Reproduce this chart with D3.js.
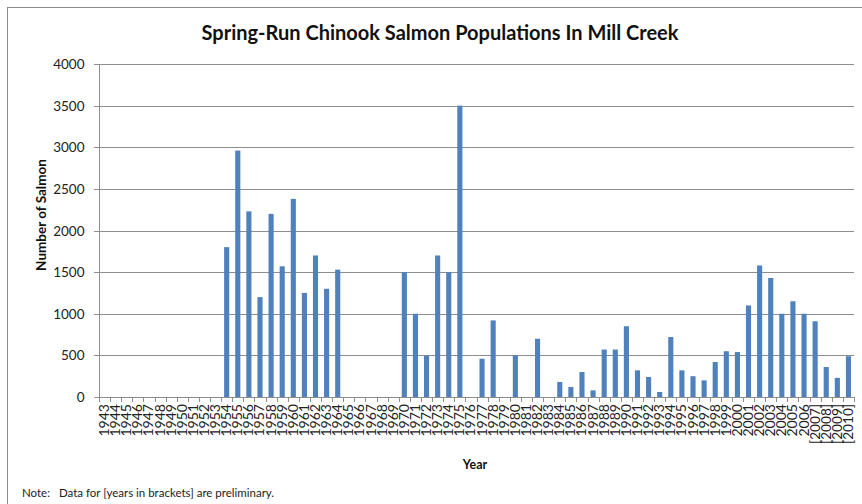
<!DOCTYPE html>
<html><head><meta charset="utf-8">
<script src="https://cdn.jsdelivr.net/npm/d3@7"></script>
<style>
html,body{margin:0;padding:0;background:#fff;}
svg{display:block;font-family:Lato,"Open Sans",sans-serif;}
</style></head>
<body><svg id="c" width="862" height="504"></svg>
<script>
const title = "Spring-Run Chinook Salmon Populations In Mill Creek";
const yTitle = "Number of Salmon";
const xTitle = "Year";
const note = "Note:   Data for [years in brackets] are preliminary.";
const years = ["1943","1944","1945","1946","1947","1948","1949","1950","1951","1952","1953",
  "1954","1955","1956","1957","1958","1959","1960","1961","1962","1963","1964",
  "1965","1966","1967","1968","1969","1970","1971","1972","1973","1974","1975",
  "1976","1977","1978","1979","1980","1981","1982","1983","1984","1985","1986",
  "1987","1988","1989","1990","1991","1992","1993","1994","1995","1996","1997",
  "1998","1999","2000","2001","2002","2003","2004","2005","2006",
  "[2007]","[2008]","[2009]","[2010]"];
const salmon = [null,null,null,null,null,null,null,null,null,null,null,
  1800,2960,2230,1200,2200,1570,2380,1250,1700,1300,1530,
  null,null,null,null,null,1500,1000,500,1700,1500,3500,
  null,460,920,null,500,null,700,null,180,120,300,
  80,570,570,850,320,240,60,720,320,250,200,
  420,550,540,1100,1580,1430,1000,1150,1000,
  910,360,230,490];
const yTicks = [0,500,1000,1500,2000,2500,3000,3500,4000];

const svg = d3.select("#c");
const m = {left:99, right:854, top:64, bottom:397};

// outer frame
svg.append("rect").attr("x",7.5).attr("y",7.5).attr("width",900).attr("height",600)
  .attr("fill","none").attr("stroke","#8c8c8c").attr("stroke-width",1);

const x = d3.scaleBand().domain(years).range([m.left,m.right]).paddingInner(0.54).paddingOuter(0.27);
const y = d3.scaleLinear().domain([0,4000]).range([m.bottom,m.top]);

// gridlines
svg.append("g").selectAll("line").data(yTicks.filter(d=>d>0)).join("line")
  .attr("x1",m.left-5).attr("x2",m.right).attr("y1",d=>Math.round(y(d))+0.5).attr("y2",d=>Math.round(y(d))+0.5)
  .attr("stroke","#8e8e8e").attr("stroke-width",1);

// y axis
const ya = svg.append("g").attr("transform",`translate(${m.left+0.5},0)`)
  .call(d3.axisLeft(y).tickValues(yTicks).tickSize(5).tickPadding(10).tickFormat(d3.format("d")));
ya.select(".domain").attr("stroke","#8e8e8e").attr("d",`M0,${m.top}V${m.bottom}`);
ya.selectAll(".tick line").attr("stroke","#8e8e8e");
ya.selectAll(".tick").attr("transform",d=>`translate(0,${Math.round(y(d))+0.5})`);
ya.selectAll("text").attr("font-family","Lato,sans-serif").attr("font-size",13.5).attr("fill","#222");

// bars
svg.append("g").selectAll("rect").data(years.map((yr,i)=>({yr,v:salmon[i]})).filter(d=>d.v!=null)).join("rect")
  .attr("x",d=>x(d.yr)).attr("width",x.bandwidth())
  .attr("y",d=>y(d.v)).attr("height",d=>y(0)-y(d.v))
  .attr("fill","#4f81bd");

// x axis baseline and ticks at category boundaries
const xg = svg.append("g");
xg.append("line").attr("x1",m.left).attr("x2",m.right).attr("y1",m.bottom+0.5).attr("y2",m.bottom+0.5)
  .attr("stroke","#8e8e8e");
xg.selectAll("line.t").data(years.concat(["end"])).join("line").attr("class","t")
  .attr("x1",(d,i)=>Math.round(m.left+i*(m.right-m.left)/years.length)+0.5)
  .attr("x2",(d,i)=>Math.round(m.left+i*(m.right-m.left)/years.length)+0.5)
  .attr("y1",m.bottom).attr("y2",m.bottom+5).attr("stroke","#8e8e8e");
xg.selectAll("text").data(years).join("text")
  .attr("transform",d=>`translate(${x(d)+x.bandwidth()/2+4.5},${m.bottom+7}) rotate(-90)`)
  .attr("text-anchor","end").attr("font-size",12.5).attr("fill","#222")
  .attr("textLength",d=>d.length>4?40:32.5).attr("lengthAdjust","spacingAndGlyphs")
  .text(d=>d);

// titles
svg.append("text").attr("x",440).attr("y",40).attr("text-anchor","middle")
  .attr("font-size",20).attr("font-weight","bold").attr("fill","#111").text(title);
svg.append("text").attr("transform","translate(46,215) rotate(-90)").attr("text-anchor","middle")
  .attr("font-size",13.5).attr("font-weight","bold").attr("fill","#111").text(yTitle);
svg.append("text").attr("x",475).attr("y",469).attr("text-anchor","middle")
  .attr("font-size",12.5).attr("font-weight","bold").attr("fill","#111").text(xTitle);
svg.append("text").attr("x",22).attr("y",497).attr("font-size",11.5).attr("fill","#222")
  .attr("xml:space","preserve").style("white-space","pre").text(note);
</script></body></html>
